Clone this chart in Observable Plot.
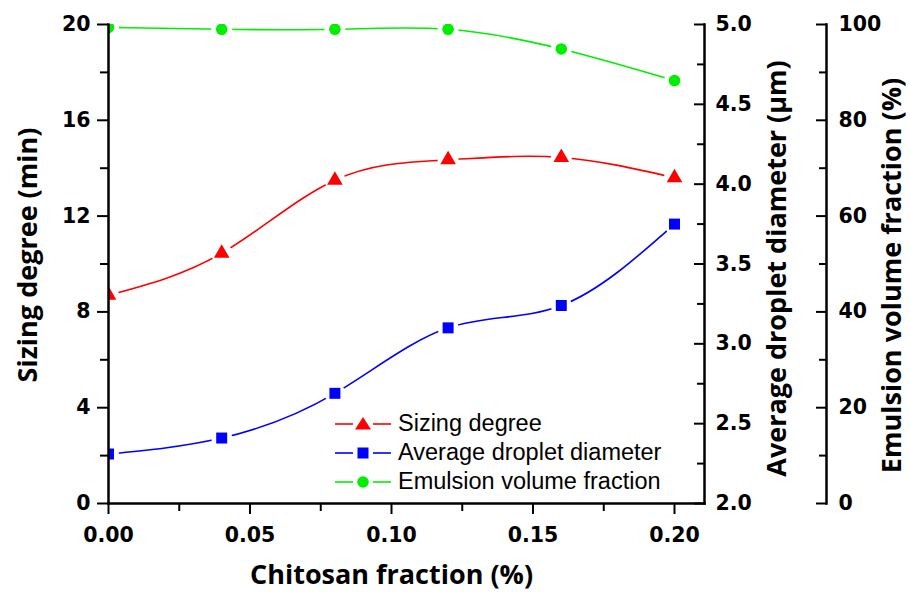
<!DOCTYPE html>
<html><head><meta charset="utf-8">
<script src="https://cdn.jsdelivr.net/npm/d3@7"></script>
<script src="https://cdn.jsdelivr.net/npm/@observablehq/plot@0.6"></script>
<style>
html,body{margin:0;padding:0;background:#fff;}
#chart{position:relative;width:910px;height:592px;}
#legend{position:absolute;left:335px;top:409px;font-family:"Liberation Sans",Arial,sans-serif;font-size:23.5px;color:#000;}
.row{display:flex;align-items:center;height:29px;white-space:nowrap;}
.row svg{width:56px;height:20px;margin-right:7px;flex:none;}
</style></head><body><div id="chart"></div>
<script>
// ---- data ----
const chitosan = [0, 0.04, 0.08, 0.12, 0.16, 0.20];
const sizingDegree = [8.7, 10.45, 13.5, 14.35, 14.45, 13.6];
const dropletDiameter = [2.31, 2.41, 2.69, 3.10, 3.24, 3.75];
const emulsionFraction = [99.4, 99.0, 99.0, 99.0, 94.9, 88.3];

const xTicks = [0, 0.05, 0.10, 0.15, 0.20];
const xMinorTicks = [0.025, 0.075, 0.125, 0.175];
const sizingTicks = [0, 4, 8, 12, 16, 20];
const sizingMinor = [2, 6, 10, 14, 18];
const diameterTicks = [2.0, 2.5, 3.0, 3.5, 4.0, 4.5, 5.0];
const diameterMinor = [2.25, 2.75, 3.25, 3.75, 4.25, 4.75];
const emulsionTicks = [0, 20, 40, 60, 80, 100];
const emulsionMinor = [10, 30, 50, 70, 90];

const seriesNames = ["Sizing degree", "Average droplet diameter", "Emulsion volume fraction"];
const seriesColors = ["#ff0000", "#0000ff", "#00ee00"];

// ---- scale helpers: map secondary axes onto the primary y range [0, 20] ----
const diamToY = d => (d - 2) / 3 * 20;
const yToDiam = y => y / 20 * 3 + 2;
const emulToY = e => e / 5;
const yToEmul = y => y * 5;

const sizingRows = chitosan.map((x, i) => ({x, y: sizingDegree[i]}));
const diamRows = chitosan.map((x, i) => ({x, y: diamToY(dropletDiameter[i])}));
const emulRows = chitosan.map((x, i) => ({x, y: emulToY(emulsionFraction[i])}));
const allRows = [...sizingRows, ...diamRows, ...emulRows];

const axisFont = {fontFamily: "'DejaVu Sans', sans-serif", fontSize: 20.5, fontWeight: "bold"};
const titleFont = {fontFamily: "'Open Sans', sans-serif", fontSize: 27, fontWeight: "bold", fill: "#000", textAnchor: "middle", lineAnchor: "middle"};

const chart = Plot.plot({
  width: 910, height: 592,
  marginLeft: 108, marginRight: 206, marginTop: 24, marginBottom: 89,
  x: {domain: [0, 0.2106], label: null},
  y: {domain: [0, 20], label: null},
  style: {background: "#fff", color: "#000", overflow: "visible"},
  marks: [
    Plot.line(sizingRows, {x: "x", y: "y", stroke: seriesColors[0], strokeWidth: 1.6, curve: "natural"}),
    Plot.line(diamRows, {x: "x", y: "y", stroke: seriesColors[1], strokeWidth: 1.6, curve: "natural"}),
    Plot.line(emulRows, {x: "x", y: "y", stroke: seriesColors[2], strokeWidth: 1.6, curve: "natural"}),
    Plot.dot(allRows, {x: "x", y: "y", r: 10.5, fill: "#fff", stroke: null, clip: true}),
    Plot.dot(sizingRows, {x: "x", y: "y", symbol: "triangle", r: 5.8, fill: seriesColors[0], clip: true}),
    Plot.dot(diamRows, {x: "x", y: "y", symbol: "square", r: 6.2, fill: seriesColors[1], clip: true}),
    Plot.dot(emulRows, {x: "x", y: "y", symbol: "circle", r: 5.8, fill: seriesColors[2], clip: true}),
    // frame lines
    Plot.frame({anchor: "left", strokeWidth: 2.5}),
    Plot.frame({anchor: "bottom", strokeWidth: 2.5}),
    Plot.frame({anchor: "right", strokeWidth: 2.5}),
    Plot.frame({anchor: "right", dx: 122, strokeWidth: 2.5}),
    // x axis
    Plot.axisX({ticks: xTicks, tickSize: 11, tickPadding: 13, strokeWidth: 2, tickFormat: d3.format(".2f"), label: null, ...axisFont}),
    Plot.axisX({ticks: xMinorTicks, tickSize: 8, strokeWidth: 2, tickFormat: () => "", label: null}),
    // left axis
    Plot.axisY({ticks: sizingTicks, tickSize: 11, tickPadding: 7, strokeWidth: 2, tickFormat: d3.format("d"), label: null, ...axisFont}),
    Plot.axisY({ticks: sizingMinor, tickSize: 8, strokeWidth: 2, tickFormat: () => "", label: null}),
    // right axis: droplet diameter (ticks point inward)
    Plot.axisY({anchor: "right", ticks: diameterTicks.map(diamToY), tickSize: 11, dx: -11, tickPadding: 11, strokeWidth: 2,
      tickFormat: v => yToDiam(v).toFixed(1), label: null, ...axisFont}),
    Plot.axisY({anchor: "right", ticks: diameterMinor.map(diamToY), tickSize: 8, dx: -8, strokeWidth: 2, tickFormat: () => "", label: null}),
    // second right axis: emulsion fraction
    Plot.axisY({anchor: "right", ticks: emulsionTicks.map(emulToY), tickSize: 11, dx: 111, tickPadding: 12, strokeWidth: 2,
      tickFormat: v => String(Math.round(yToEmul(v))), label: null, ...axisFont}),
    Plot.axisY({anchor: "right", ticks: emulsionMinor.map(emulToY), tickSize: 8, dx: 114, strokeWidth: 2, tickFormat: () => "", label: null}),
    // axis titles
    Plot.text(["Sizing degree (min)"], {frameAnchor: "left", dx: -80, dy: -9, rotate: -90, ...titleFont}),
    Plot.text(["Average droplet diameter (\u03bcm)"], {frameAnchor: "right", dx: 73, dy: 4.5, rotate: -90, ...titleFont}),
    Plot.text(["Emulsion volume fraction (%)"], {frameAnchor: "right", dx: 188, dy: 11.5, rotate: -90, ...titleFont}),
    Plot.text(["Chitosan fraction (%)"], {frameAnchor: "bottom", dx: -15, dy: 72, ...titleFont})
  ]
});

const container = document.getElementById("chart");
container.appendChild(chart);

// ---- legend (inside plot, lower middle) ----
const legend = document.createElement("div");
legend.id = "legend";
const shapes = ["triangle", "square", "circle"];
seriesNames.forEach((name, i) => {
  const row = document.createElement("div");
  row.className = "row";
  const c = seriesColors[i];
  let marker;
  if (shapes[i] === "triangle") marker = `<path d="M28,3 L36,15.5 L20,15.5 Z" fill="${c}"/>`;
  else if (shapes[i] === "square") marker = `<rect x="22.5" y="4.5" width="11" height="11" fill="${c}"/>`;
  else marker = `<circle cx="28" cy="10" r="5.8" fill="${c}"/>`;
  row.innerHTML = `<svg viewBox="0 0 56 20"><line x1="0" y1="10" x2="18" y2="10" stroke="${c}" stroke-width="1.6"/><line x1="38" y1="10" x2="56" y2="10" stroke="${c}" stroke-width="1.6"/>${marker}</svg><span>${name}</span>`;
  legend.appendChild(row);
});
container.appendChild(legend);
</script>
</body></html>
